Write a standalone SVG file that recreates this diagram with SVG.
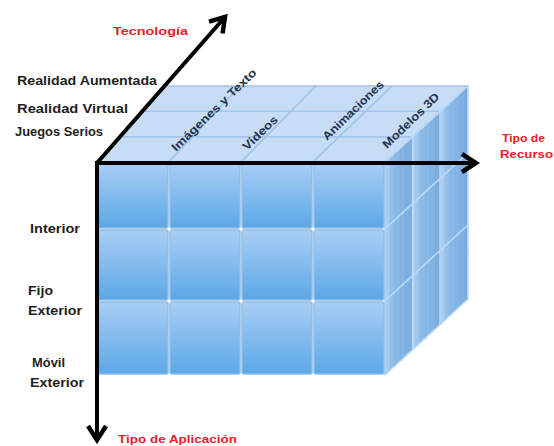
<svg xmlns="http://www.w3.org/2000/svg" width="554" height="446" viewBox="0 0 554 446">
<defs>
<style>
.lbl{font-family:"Liberation Sans",Arial,sans-serif;font-weight:bold;font-size:13.5px;fill:#1e1e1e}
.red{font-family:"Liberation Sans",Arial,sans-serif;font-weight:bold;font-size:11.5px;fill:#e8202a}
.col{font-family:"Liberation Sans",Arial,sans-serif;font-weight:bold;font-size:11.5px;fill:#23334f}
.front{fill:url(#gFront);stroke:#8fbde9;stroke-width:1.5}
.top{fill:#c7ddf5;stroke:#a3c5ea;stroke-width:1.6;stroke-linejoin:round}
.side{fill:url(#gSide);stroke:#bcdaf7;stroke-width:1.6;stroke-linejoin:round}
.stripe{fill:url(#pStripe);stroke:none}
.axis{stroke:#000;stroke-width:4;fill:none;marker-end:url(#arr)}
</style>
<linearGradient id="gFront" x1="0" y1="0" x2="0" y2="1">
<stop offset="0" stop-color="#a9cef4"/>
<stop offset="1" stop-color="#5ba8e7"/>
</linearGradient>
<linearGradient id="gSide" x1="0" y1="0" x2="1" y2="0">
<stop offset="0" stop-color="#b3d5f5"/>
<stop offset="0.3" stop-color="#8dbce8"/>
<stop offset="1" stop-color="#79acdf"/>
</linearGradient>
<pattern id="pStripe" width="5" height="10" patternUnits="userSpaceOnUse">
<rect x="0" y="0" width="1.2" height="10" fill="#5f95cf" opacity="0.12"/>
</pattern>
<marker id="arr" viewBox="0 0 24 24" refX="20" refY="12" markerWidth="24" markerHeight="24" orient="auto" markerUnits="userSpaceOnUse">
<path d="M6,3 L20,12 L6,21" fill="none" stroke="#000" stroke-width="4.5" stroke-linejoin="miter"/>
</marker>
</defs>
<rect width="554" height="446" fill="#fff"/>

<g id="cube">
<g id="top-face">
<polygon class="top" points="97,162 169,162 192.7,136.7 119.3,136.7"/>
<polygon class="top" points="169,162 241,162 266,136.7 192.7,136.7"/>
<polygon class="top" points="241,162 313,162 339.3,136.7 266,136.7"/>
<polygon class="top" points="313,162 385,162 412.7,136.7 339.3,136.7"/>
<polygon class="top" points="119.3,136.7 192.7,136.7 216.3,111.3 141.7,111.3"/>
<polygon class="top" points="192.7,136.7 266,136.7 291,111.3 216.3,111.3"/>
<polygon class="top" points="266,136.7 339.3,136.7 365.7,111.3 291,111.3"/>
<polygon class="top" points="339.3,136.7 412.7,136.7 440.3,111.3 365.7,111.3"/>
<polygon class="top" points="141.7,111.3 216.3,111.3 240,86 164,86"/>
<polygon class="top" points="216.3,111.3 291,111.3 316,86 240,86"/>
<polygon class="top" points="291,111.3 365.7,111.3 392,86 316,86"/>
<polygon class="top" points="365.7,111.3 440.3,111.3 468,86 392,86"/>
</g>
<g id="side-face">
<polygon class="side" points="385,162 412.7,136.7 412.7,203.7 385,229"/>
<polygon class="side" points="412.7,136.7 440.3,111.3 440.3,178.3 412.7,203.7"/>
<polygon class="side" points="440.3,111.3 468,86 468,153 440.3,178.3"/>
<polygon class="side" points="385,229 412.7,203.7 412.7,275.7 385,301"/>
<polygon class="side" points="412.7,203.7 440.3,178.3 440.3,250.3 412.7,275.7"/>
<polygon class="side" points="440.3,178.3 468,153 468,225 440.3,250.3"/>
<polygon class="side" points="385,301 412.7,275.7 412.7,349.7 385,375"/>
<polygon class="side" points="412.7,275.7 440.3,250.3 440.3,324.3 412.7,349.7"/>
<polygon class="side" points="440.3,250.3 468,225 468,299 440.3,324.3"/>
<polygon class="stripe" points="385,162 468,86 468,299 385,375"/>
</g>
<g id="front-face">
<rect class="front" x="98" y="163" width="70" height="65" rx="2"/>
<rect class="front" x="170" y="163" width="70" height="65" rx="2"/>
<rect class="front" x="242" y="163" width="70" height="65" rx="2"/>
<rect class="front" x="314" y="163" width="70" height="65" rx="2"/>
<rect class="front" x="98" y="230" width="70" height="70" rx="2"/>
<rect class="front" x="170" y="230" width="70" height="70" rx="2"/>
<rect class="front" x="242" y="230" width="70" height="70" rx="2"/>
<rect class="front" x="314" y="230" width="70" height="70" rx="2"/>
<rect class="front" x="98" y="302" width="70" height="72" rx="2"/>
<rect class="front" x="170" y="302" width="70" height="72" rx="2"/>
<rect class="front" x="242" y="302" width="70" height="72" rx="2"/>
<rect class="front" x="314" y="302" width="70" height="72" rx="2"/>
</g>
</g>

<g id="column-labels">
<text class="col" transform="translate(176,152) rotate(-44)" textLength="113" lengthAdjust="spacingAndGlyphs">Imágenes y Texto</text>
<text class="col" transform="translate(247,151) rotate(-44)" textLength="44" lengthAdjust="spacingAndGlyphs">Videos</text>
<text class="col" transform="translate(327,141) rotate(-44)" textLength="80" lengthAdjust="spacingAndGlyphs">Animaciones</text>
<text class="col" transform="translate(387,149) rotate(-44)" textLength="74" lengthAdjust="spacingAndGlyphs">Modelos 3D</text>
</g>

<g id="connectors">
<line class="axis" x1="97" y1="161" x2="97" y2="440"/>
<line class="axis" x1="95" y1="163" x2="476" y2="163"/>
<line class="axis" x1="97" y1="163" x2="225" y2="17"/>
</g>

<g id="tech-labels">
<text class="red" x="113" y="35" textLength="75" lengthAdjust="spacingAndGlyphs">Tecnología</text>
<text class="lbl" x="17" y="85" textLength="140" lengthAdjust="spacingAndGlyphs">Realidad Aumentada</text>
<text class="lbl" x="17" y="113" textLength="111" lengthAdjust="spacingAndGlyphs">Realidad Virtual</text>
<text class="lbl" x="15" y="136" textLength="88" lengthAdjust="spacingAndGlyphs">Juegos Serios</text>
</g>

<g id="app-labels">
<text class="lbl" x="30" y="233" textLength="50" lengthAdjust="spacingAndGlyphs">Interior</text>
<text class="lbl" x="28" y="295" textLength="25" lengthAdjust="spacingAndGlyphs">Fijo</text>
<text class="lbl" x="28" y="315" textLength="54" lengthAdjust="spacingAndGlyphs">Exterior</text>
<text class="lbl" x="32" y="367" textLength="33" lengthAdjust="spacingAndGlyphs">Móvil</text>
<text class="lbl" x="30" y="387" textLength="54" lengthAdjust="spacingAndGlyphs">Exterior</text>
<text class="red" x="118" y="443" textLength="119" lengthAdjust="spacingAndGlyphs">Tipo de Aplicación</text>
</g>

<g id="resource-label">
<text class="red" x="502" y="142" textLength="43" lengthAdjust="spacingAndGlyphs">Tipo de</text>
<text class="red" x="500" y="158" textLength="53" lengthAdjust="spacingAndGlyphs">Recurso</text>
</g>
</svg>
